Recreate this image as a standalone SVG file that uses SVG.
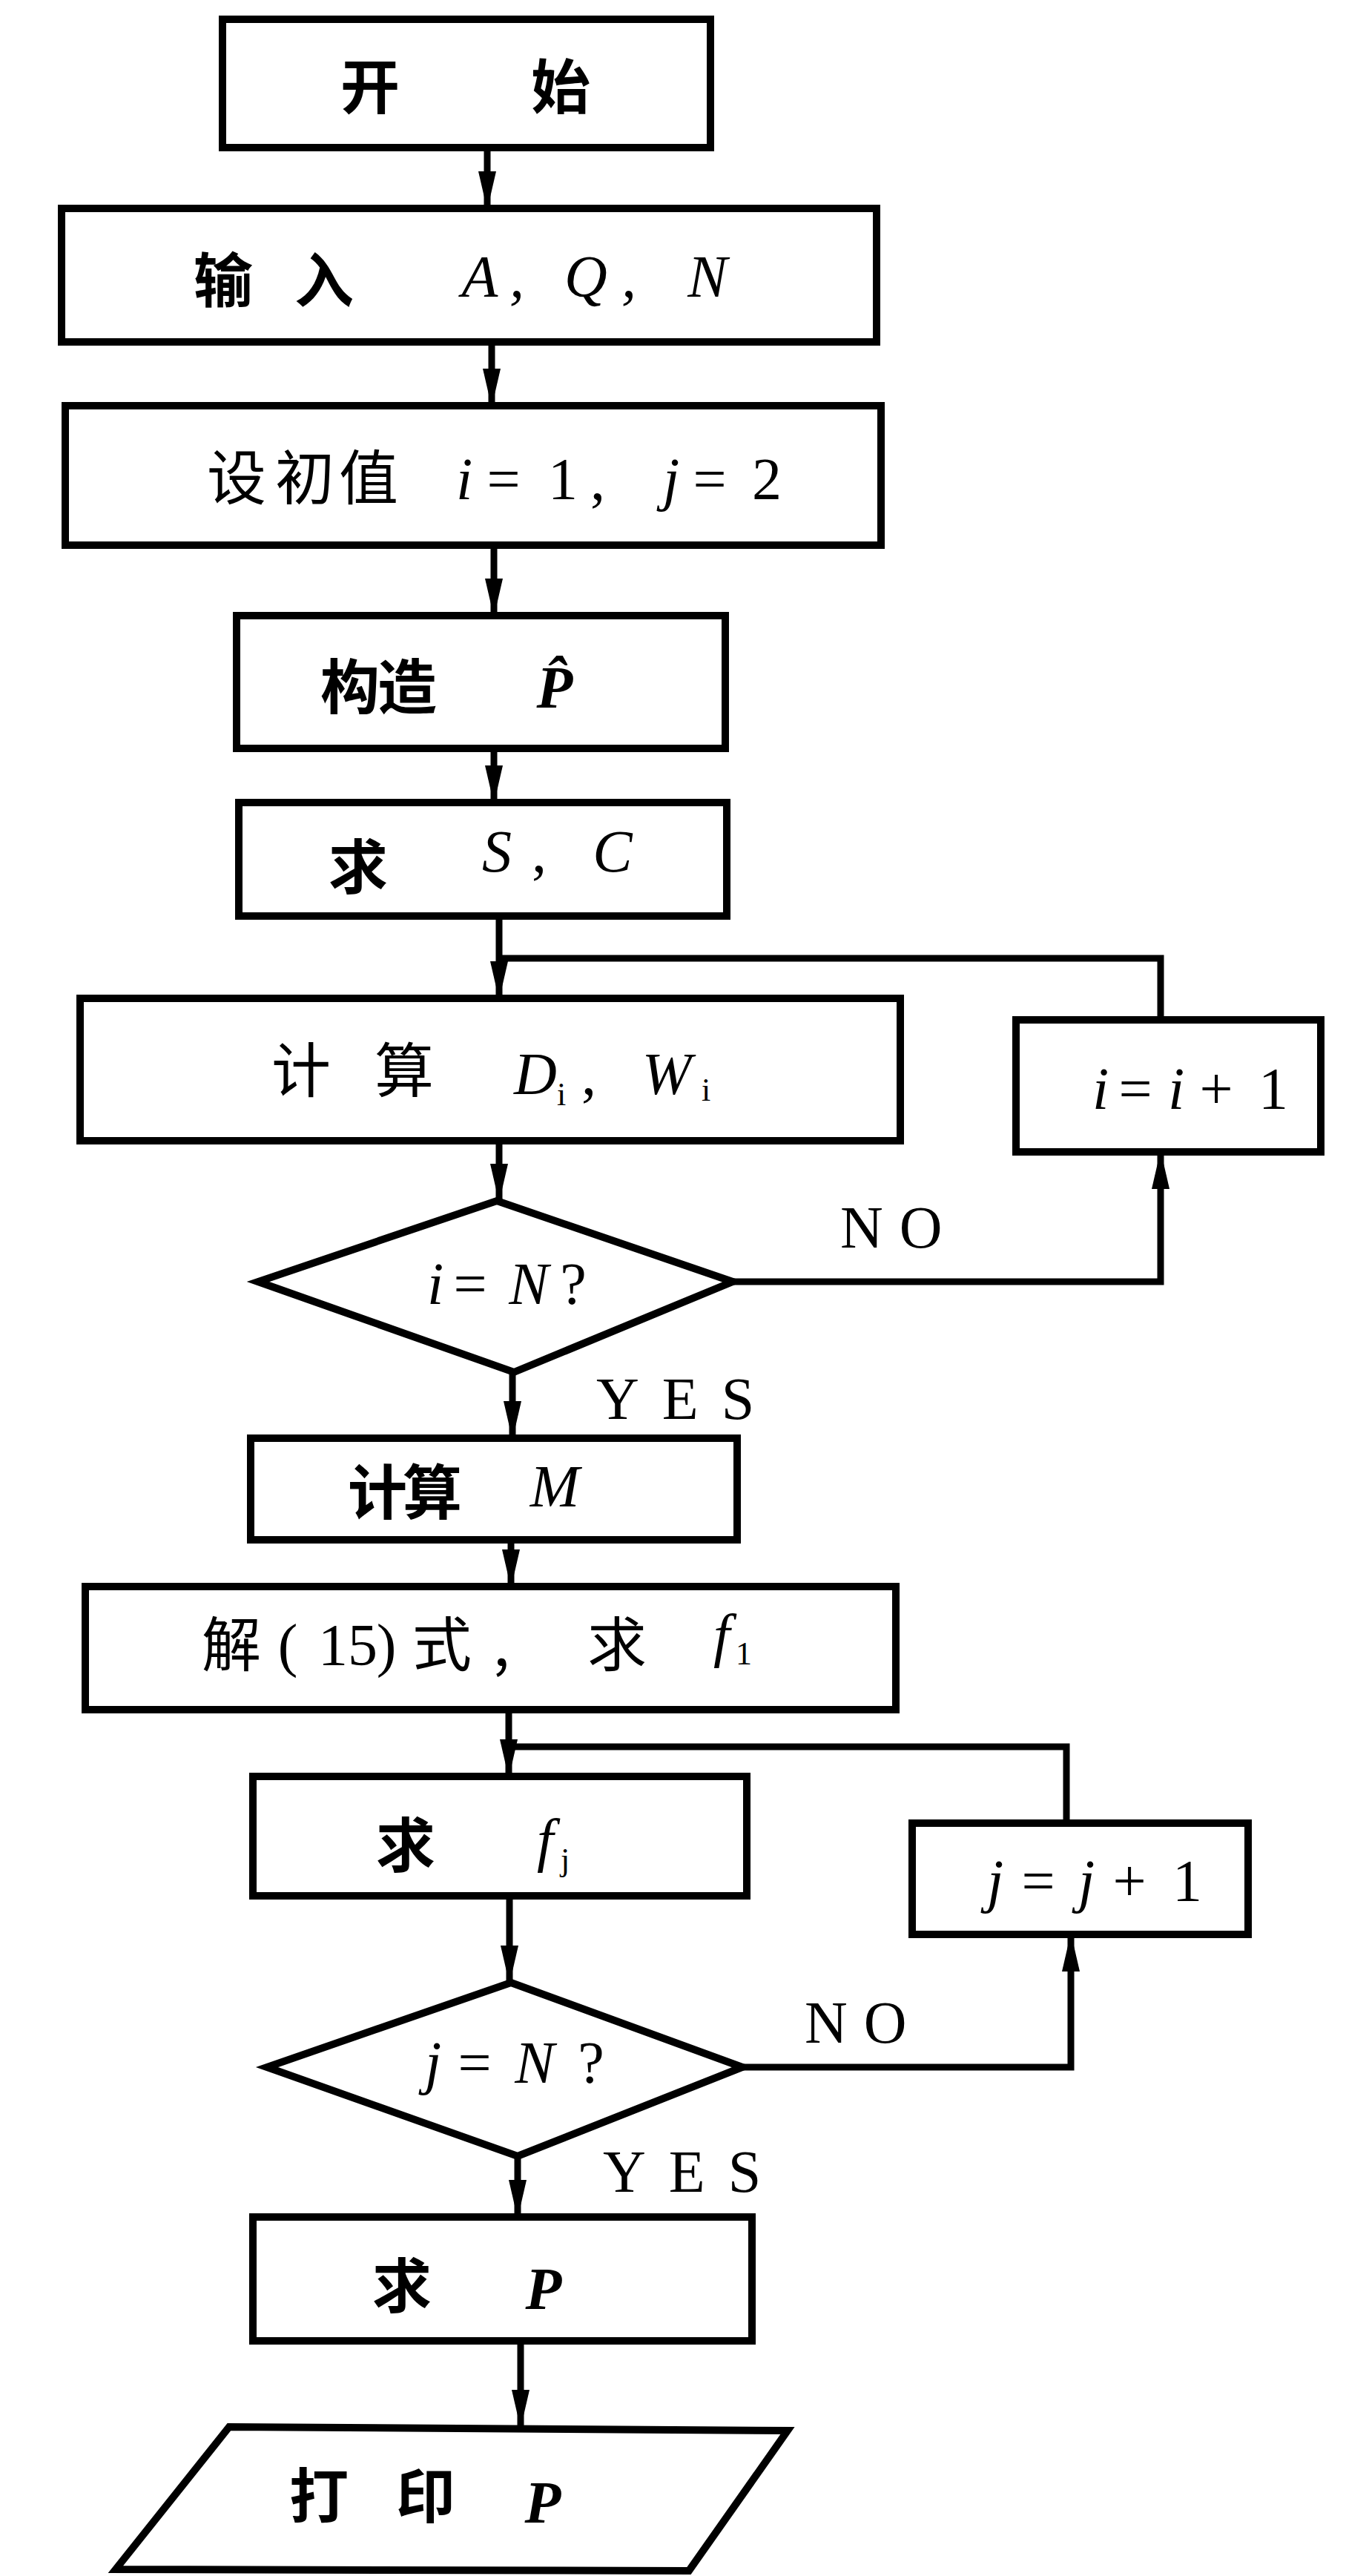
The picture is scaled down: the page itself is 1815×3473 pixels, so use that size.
<svg xmlns="http://www.w3.org/2000/svg" width="1815" height="3473" viewBox="0 0 1815 3473">
<style>
.box{fill:none;stroke:#000;stroke-width:10;stroke-linejoin:miter}
.ln{fill:none;stroke:#000;stroke-width:9}
.arr{fill:none;stroke:#000;stroke-width:9;marker-end:url(#ah)}
.cjk{font-family:"Noto Sans CJK SC","Noto Sans CJK JP",sans-serif;font-size:80px;text-anchor:middle;fill:#000}
.b{font-weight:700}
.m{font-family:"Liberation Serif",serif;font-style:italic;font-size:80px;text-anchor:middle;fill:#000}
.r{font-family:"Liberation Serif",serif;font-size:80px;text-anchor:middle;fill:#000}
.sub{font-family:"Liberation Serif",serif;font-size:44px;text-anchor:middle;fill:#000}
.lab{font-family:"Liberation Serif",serif;font-size:80px;fill:#000}
</style>
<defs>
<marker id="ah" markerUnits="userSpaceOnUse" markerWidth="52" markerHeight="24" refX="50" refY="12" orient="auto">
<path d="M0,0 L52,12 L0,24 z" fill="#000"/>
</marker>
</defs>
<rect width="1815" height="3473" fill="#fff"/>

<g id="connectors">
<line class="arr" x1="657" y1="199" x2="657" y2="281"/>
<line class="arr" x1="663" y1="461" x2="663" y2="547"/>
<line class="arr" x1="666" y1="735" x2="666" y2="830"/>
<line class="arr" x1="666" y1="1009" x2="666" y2="1082"/>
<line class="arr" x1="673" y1="1235" x2="673" y2="1346"/>
<line class="arr" x1="673" y1="1538" x2="673" y2="1619"/>
<line class="arr" x1="691" y1="1850" x2="691" y2="1939"/>
<line class="arr" x1="689" y1="2076" x2="689" y2="2139"/>
<line class="arr" x1="686" y1="2305" x2="686" y2="2395"/>
<line class="arr" x1="687" y1="2556" x2="687" y2="2673"/>
<line class="arr" x1="698" y1="2907" x2="698" y2="2989"/>
<line class="arr" x1="702" y1="3156" x2="702" y2="3272"/>
<polyline class="arr" points="988,1728 1565,1728 1565,1553"/>
<polyline class="ln" points="1565,1375 1565,1292 673,1292"/>
<polyline class="arr" points="1001,2787 1444,2787 1444,2608"/>
<polyline class="ln" points="1438,2458 1438,2355 686,2355"/>
<text class="lab" x="1133" y="1682" letter-spacing="22">NO</text>
<text class="lab" x="804" y="1913" font-size="78" letter-spacing="31">YES</text>
<text class="lab" x="1085" y="2754" letter-spacing="22">NO</text>
<text class="lab" x="813" y="2955" font-size="78" letter-spacing="31">YES</text>
</g>

<g id="start">
<rect class="box" x="300" y="26" width="658" height="173"/>
<text class="cjk b" y="146"><tspan x="499">开</tspan><tspan x="756">始</tspan></text>
</g>

<g id="input">
<rect class="box" x="83" y="281" width="1099" height="180"/>
<text class="cjk b" y="407"><tspan x="301">输</tspan><tspan x="437">入</tspan></text>
<text class="m" y="400"><tspan x="647">A</tspan><tspan x="697">,</tspan><tspan x="790">Q</tspan><tspan x="848">,</tspan><tspan x="954">N</tspan></text>
</g>

<g id="init">
<rect class="box" x="88" y="547" width="1100" height="188"/>
<text class="cjk" y="673"><tspan x="319">设</tspan><tspan x="411">初</tspan><tspan x="497">值</tspan></text>
<text class="m" y="673"><tspan x="626">i</tspan></text>
<text class="r" y="673"><tspan x="679">=</tspan><tspan x="759">1</tspan><tspan x="806">,</tspan></text>
<text class="m" y="673"><tspan x="905">j</tspan></text>
<text class="r" y="673"><tspan x="957">=</tspan><tspan x="1034">2</tspan></text>
</g>

<g id="construct">
<rect class="box" x="319" y="830" width="659" height="179"/>
<text class="cjk b" y="955"><tspan x="472">构</tspan><tspan x="549">造</tspan></text>
<text class="m b" x="748" y="954">P̂</text>
</g>

<g id="findSC">
<rect class="box" x="322" y="1082" width="658" height="153"/>
<text class="cjk b" x="483" y="1198">求</text>
<text class="m" y="1175"><tspan x="670">S</tspan></text>
<text class="r" y="1175"><tspan x="727">,</tspan></text>
<text class="m" y="1175"><tspan x="826">C</tspan></text>
</g>

<g id="calcDW">
<rect class="box" x="108" y="1346" width="1106" height="192"/>
<text class="cjk" y="1472"><tspan x="406">计</tspan><tspan x="545">算</tspan></text>
<text class="m" x="722" y="1475">D</text>
<text class="sub" x="757" y="1490">i</text>
<text class="r" x="794" y="1475">,</text>
<text class="m" x="899" y="1475">W</text>
<text class="sub" x="952" y="1484">i</text>
</g>

<g id="incI">
<rect class="box" x="1370" y="1375" width="411" height="178"/>
<text class="m" y="1495"><tspan x="1484">i</tspan></text>
<text class="r" y="1495"><tspan x="1531">=</tspan></text>
<text class="m" y="1495"><tspan x="1586">i</tspan></text>
<text class="r" y="1495"><tspan x="1640">+</tspan><tspan x="1717">1</tspan></text>
</g>

<g id="decisionI">
<polygon class="box" points="670,1619 988,1728 693,1850 348,1728"/>
<text class="m" y="1758"><tspan x="587">i</tspan></text>
<text class="r" y="1758"><tspan x="634">=</tspan></text>
<text class="m" y="1758"><tspan x="713">N</tspan></text>
<text class="r" y="1758"><tspan x="773">?</tspan></text>
</g>

<g id="calcM">
<rect class="box" x="338" y="1939" width="656" height="137"/>
<text class="cjk b" y="2041"><tspan x="509">计</tspan><tspan x="583">算</tspan></text>
<text class="m" x="748" y="2031">M</text>
</g>

<g id="solve15">
<rect class="box" x="115" y="2139" width="1093" height="166"/>
<text class="cjk" y="2246"><tspan x="312">解</tspan></text>
<text class="r" y="2245"><tspan x="388">(</tspan><tspan x="469">15</tspan><tspan x="521">)</tspan></text>
<text class="cjk" y="2246"><tspan x="596">式</tspan><tspan x="676">,</tspan><tspan x="832">求</tspan></text>
<text class="m" x="973" y="2232">f</text>
<text class="sub" x="1003" y="2244">1</text>
</g>

<g id="findFj">
<rect class="box" x="341" y="2395" width="666" height="161"/>
<text class="cjk b" x="547" y="2517">求</text>
<text class="m" x="735" y="2508">f</text>
<text class="sub" x="762" y="2522">j</text>
</g>

<g id="incJ">
<rect class="box" x="1230" y="2458" width="453" height="150"/>
<text class="m" y="2563"><tspan x="1342">j</tspan></text>
<text class="r" y="2563"><tspan x="1400">=</tspan></text>
<text class="m" y="2563"><tspan x="1465">j</tspan></text>
<text class="r" y="2563"><tspan x="1523">+</tspan><tspan x="1601">1</tspan></text>
</g>

<g id="decisionJ">
<polygon class="box" points="689,2673 1001,2787 698,2907 360,2787"/>
<text class="m" y="2808"><tspan x="584">j</tspan></text>
<text class="r" y="2808"><tspan x="640">=</tspan></text>
<text class="m" y="2808"><tspan x="721">N</tspan></text>
<text class="r" y="2808"><tspan x="797">?</tspan></text>
</g>

<g id="findP">
<rect class="box" x="341" y="2989" width="673" height="167"/>
<text class="cjk b" x="542" y="3111">求</text>
<text class="m b" x="733" y="3113">P</text>
</g>

<g id="printP">
<polygon class="box" points="309,3272 1062,3277 929,3466 156,3464"/>
<text class="cjk b" y="3394"><tspan x="430">打</tspan><tspan x="574">印</tspan></text>
<text class="m b" x="732" y="3401">P</text>
</g>
</svg>
